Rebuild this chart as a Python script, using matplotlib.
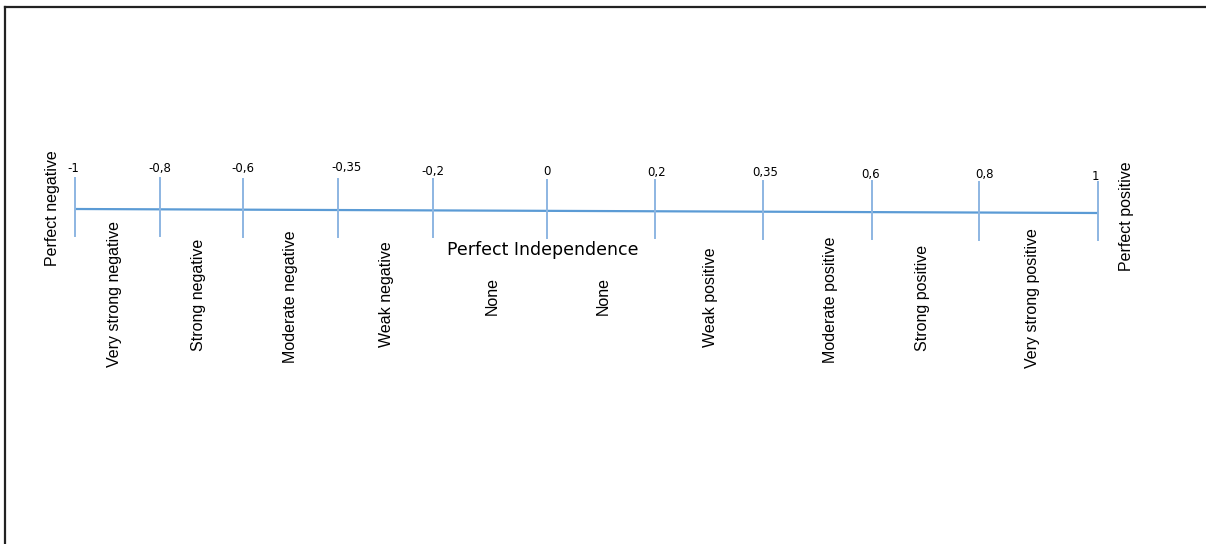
import matplotlib.pyplot as plt

# 상관계수 눈금 (scale)
values = ["-1", "-0,8", "-0,6", "-0,35", "-0,2", "0", "0,2", "0,35", "0,6", "0,8", "1"]
tick_x = [75, 160, 243, 338, 433, 547, 655, 763, 872, 979, 1098]
value_dx = [-2, 0, 0, 9, 0, 0, 2, 2, -1, 6, -3]   # 글자 살짝 어긋남
value_dy = [-1, -1, -1, -3, 1, 1, 1, 1, 2, 2, 4]

# 구간 이름 (between ticks)
categories = ["Very strong negative", "Strong negative", "Moderate negative", "Weak negative",
              "None", "None", "Weak positive", "Moderate positive", "Strong positive",
              "Very strong positive"]
cat_x = [115, 199, 290, 387, 492, 603, 710, 830, 923, 1033]
cat_bottom = [367, 351, 363, 347, 315, 315, 347, 363, 351, 368]

ends = ["Perfect negative", "Perfect positive"]
end_x = [52, 1126]
end_bottom = [266, 271]

W, H = 1206, 544
fig = plt.figure(figsize=(W / 100, H / 100), dpi=100)
ax = fig.add_axes([0, 0, 1, 1])
ax.set_xlim(0, W)
ax.set_ylim(H, 0)
ax.axis("off")

narrow = ["Liberation Sans Narrow", "Liberation Sans", "DejaVu Sans"]

def line_y(x):
    return 209 + (x - tick_x[0]) * 4 / (tick_x[-1] - tick_x[0])

# 테두리 (top / left)
ax.plot([5, W], [7, 7], color="#222222", lw=1.6)
ax.plot([5, 5], [7, H], color="#222222", lw=1.6)

# 가로선
ax.plot([tick_x[0], tick_x[-1]], [line_y(tick_x[0]), line_y(tick_x[-1])],
        color="#5B9BD5", lw=1.6, solid_capstyle="butt")

for i, x in enumerate(tick_x):
    y = line_y(x)
    ax.plot([x, x], [y - 31, y + 27], color="#8DB6E2", lw=1.4)
    ax.text(x + value_dx[i], y - 40 + value_dy[i], values[i], ha="center", va="center",
            fontsize=8.5, family="DejaVu Sans")

for name, x, b in zip(categories, cat_x, cat_bottom):
    ax.text(x, b, name, rotation=90, ha="center", va="bottom", fontsize=11.5, family=narrow)

for name, x, b in zip(ends, end_x, end_bottom):
    ax.text(x, b, name, rotation=90, ha="center", va="bottom", fontsize=11.5, family=narrow)

ax.text(543, 250, "Perfect Independence", ha="center", va="center", fontsize=12.5,
        family="DejaVu Sans")

fig.savefig("out.png", dpi=100)
